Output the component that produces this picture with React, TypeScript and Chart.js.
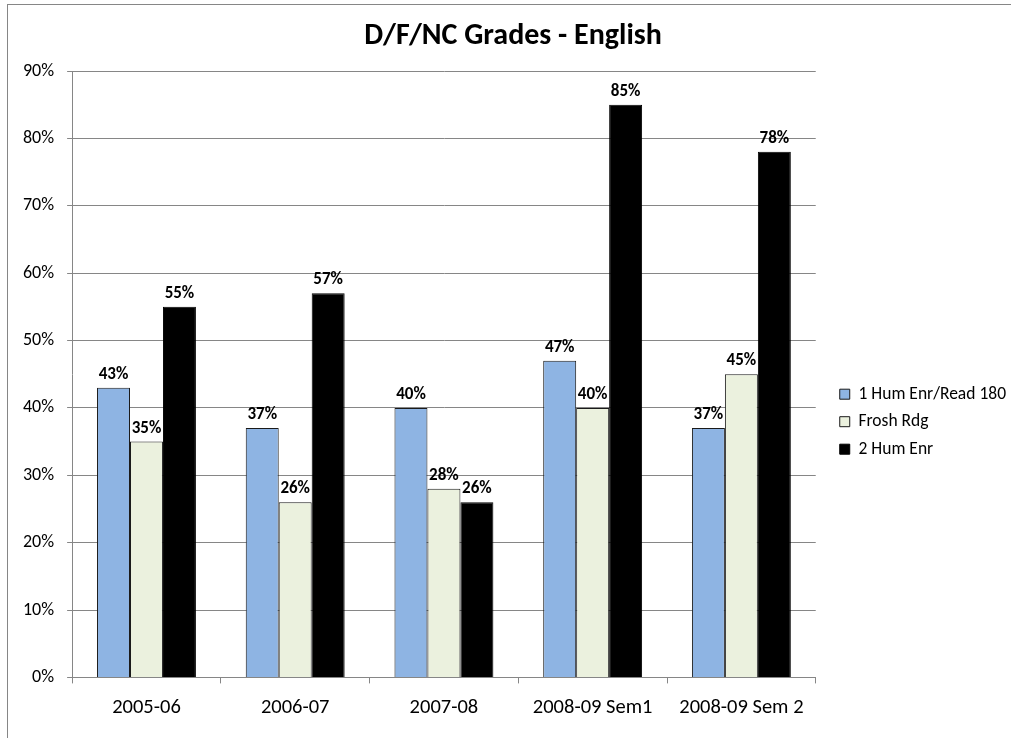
import React, { useEffect, useRef } from "react";
import { Chart, registerables } from "chart.js";

Chart.register(...registerables);

const categories = ["2005-06", "2006-07", "2007-08", "2008-09 Sem1", "2008-09 Sem 2"];
const seriesNames = ["1 Hum Enr/Read 180", "Frosh Rdg", "2 Hum Enr"];
const humEnrRead = [43, 37, 40, 47, 37];
const froshRdg = [35, 26, 28, 40, 45];
const humEnr2 = [55, 57, 26, 85, 78];
const yTicks = [0, 10, 20, 30, 40, 50, 60, 70, 80, 90];
const titleText = "D/F/NC Grades - English";

const FONT = "Carlito, Calibri, Lato, sans-serif";

const dataLabelPlugin = {
  id: "dataLabels",
  afterDatasetsDraw(chart: any) {
    const ctx = chart.ctx;
    ctx.save();
    ctx.font = `bold 17px ${FONT}`;
    ctx.fillStyle = "#000";
    ctx.textAlign = "center";
    ctx.textBaseline = "alphabetic";
    chart.data.datasets.forEach((ds: any, i: number) => {
      const meta = chart.getDatasetMeta(i);
      meta.data.forEach((bar: any, j: number) => {
        ctx.fillText(ds.data[j] + "%", bar.x, bar.y - 9);
      });
    });
    ctx.restore();
  },
};

// lets the right-hand legend take its natural width
const legendWidthPlugin = {
  id: "legendWidth",
  beforeLayout(chart: any) {
    const lg = chart.legend;
    if (!lg || lg.__patched) return;
    lg.__patched = true;
    const fit = lg.fit.bind(lg);
    lg.fit = function () {
      this.maxWidth = 1000;
      fit();
    };
  },
};

export default function App() {
  const ref = useRef<HTMLCanvasElement>(null);
  useEffect(() => {
    if (!ref.current) return;
    Chart.defaults.font.family = FONT;
    const chart = new Chart(ref.current, {
      type: "bar",
      data: {
        labels: categories,
        datasets: [
          { label: seriesNames[0], data: humEnrRead, backgroundColor: "#8EB4E3", borderColor: "#1a1a1a", borderWidth: 1 },
          { label: seriesNames[1], data: froshRdg, backgroundColor: "#EBF1DE", borderColor: "#1a1a1a", borderWidth: 1 },
          { label: seriesNames[2], data: humEnr2, backgroundColor: "#000000", borderColor: "#000000", borderWidth: 1 },
        ],
      },
      options: {
        animation: false,
        responsive: false,
        events: [],
        layout: { padding: { top: 4, left: 10, right: -5, bottom: 6 } },
        datasets: { bar: { categoryPercentage: 0.665, barPercentage: 1 } },
        plugins: {
          title: {
            display: true,
            text: titleText,
            color: "#000",
            font: { size: 30, weight: "bold", family: FONT },
            padding: { top: 14, bottom: 17 },
          },
          legend: {
            position: "right",
            title: { display: true, text: "", padding: { top: 87, bottom: 6 } },
            labels: {
              boxWidth: 10,
              boxHeight: 10,
              padding: 10,
              color: "#000",
              font: { size: 17.5, family: FONT },
            },
          },
          tooltip: { enabled: false },
        },
        scales: {
          x: {
            grid: { display: true, drawOnChartArea: false, tickLength: 6, color: "#868686", offset: true },
            border: { color: "#868686" },
            ticks: { padding: 12, color: "#000", font: { size: 20.5 }, maxRotation: 0 },
          },
          y: {
            min: 0,
            max: 90,
            afterBuildTicks: (s: any) => {
              s.ticks = yTicks.map((v) => ({ value: v }));
            },
            ticks: { padding: 13, color: "#000", font: { size: 18 }, callback: (v: any) => v + "%" },
            grid: { color: "#868686", tickLength: 5 },
            border: { color: "#868686" },
          },
          y2: {
            position: "right",
            display: true,
            afterFit: (s: any) => {
              s.width = 14;
            },
            ticks: { display: false },
            grid: { display: false },
            border: { display: false },
          },
        },
      },
      plugins: [dataLabelPlugin, legendWidthPlugin],
    } as any);
    return () => chart.destroy();
  }, []);

  return (
    <div style={{ position: "fixed", left: 0, top: 0, width: 1011, height: 738, overflow: "hidden", background: "#fff" }}>
      <div
        style={{
          position: "absolute",
          left: 7,
          top: 4,
          width: 1100,
          height: 800,
          border: "1px solid #868686",
        }}
      />
      <canvas ref={ref} width={1011} height={738} style={{ position: "absolute", left: 0, top: 0 }} />
    </div>
  );
}
